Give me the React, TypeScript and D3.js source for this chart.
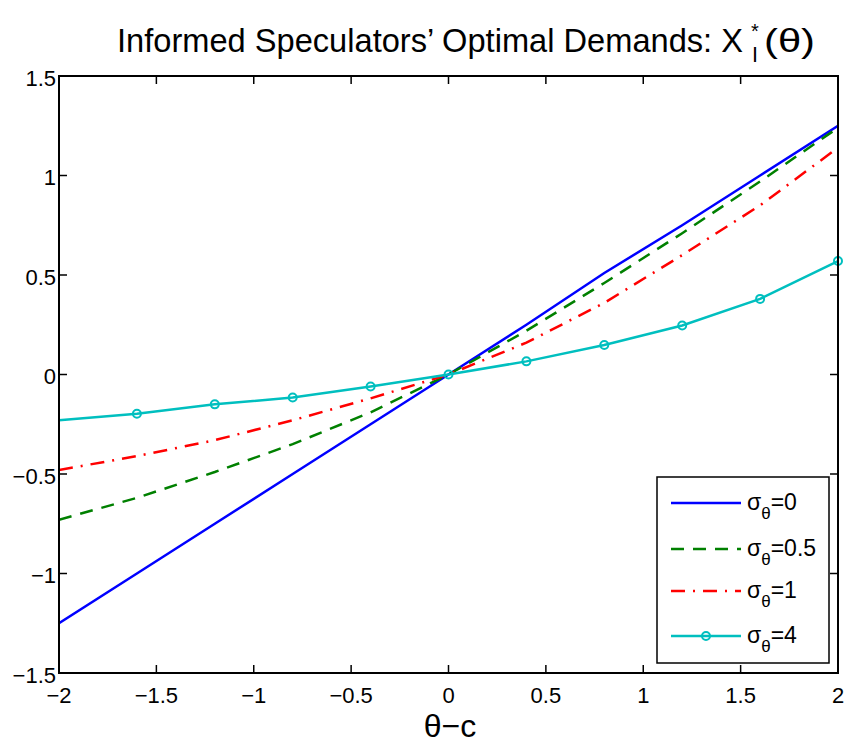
import React, { useEffect } from "react";
import * as d3 from "d3";

// theta - c grid
const thetaC = [-2, -1.6, -1.2, -0.8, -0.4, 0, 0.4, 0.8, 1.2, 1.6, 2];

const demandSigma0 = [-1.25, -1.0, -0.75, -0.5, -0.25, 0, 0.25, 0.51, 0.75, 1.0, 1.25];
const demandSigma05 = [-0.73, -0.62, -0.49, -0.35, -0.19, 0, 0.22, 0.46, 0.71, 0.97, 1.24];
const demandSigma1 = [-0.48, -0.41, -0.33, -0.23, -0.12, 0, 0.16, 0.36, 0.6, 0.85, 1.14];
const demandSigma4 = [-0.23, -0.197, -0.15, -0.116, -0.06, 0, 0.066, 0.148, 0.246, 0.38, 0.57];

const markerX = [-1.6, -1.2, -0.8, -0.4, 0, 0.4, 0.8, 1.2, 1.6, 2];

const xTicks = [-2, -1.5, -1, -0.5, 0, 0.5, 1, 1.5, 2];
const yTicks = [-1.5, -1, -0.5, 0, 0.5, 1, 1.5];

const legendLabels = ["0", "0.5", "1", "4"];

type Series = { values: number[]; color: string; dash?: string; markers?: boolean };

const series: Series[] = [
  { values: demandSigma0, color: "#0000ff" },
  { values: demandSigma05, color: "#008000", dash: "13,9" },
  { values: demandSigma1, color: "#ff0000", dash: "14,8,2,8" },
  { values: demandSigma4, color: "#00bfbf", markers: true },
];

const W = 849;
const H = 745;
const L = 59, R = 838, T = 76, B = 673;
const FONT = "'Liberation Sans', Arial, Helvetica, sans-serif";

const fmt = (v: number) => {
  const s = String(Math.abs(v));
  return v < 0 ? "\u2212" + s : s;
};

export default function App() {
  useEffect(() => {
    document.body.style.margin = "0";
  }, []);

  const x = d3.scaleLinear().domain([-2, 2]).range([L, R]);
  const y = d3.scaleLinear().domain([-1.5, 1.5]).range([B, T]);

  const line = (vals: number[]) =>
    d3.line<number>().x((_, i) => x(thetaC[i])).y((d) => y(d))(vals) || "";

  const tick = 8;
  const legX = 657, legY = 477, legW = 172, legH = 186;
  const rowY = [503, 549, 591, 636];

  return (
    <svg width={W} height={H} style={{ display: "block", background: "#fff" }} fontFamily={FONT}>
      {/* title */}
      <text x={117} y={52} fontSize={34} textLength={626} lengthAdjust="spacingAndGlyphs">
        Informed Speculators’ Optimal Demands: X
      </text>
      <text x={751} y={38} fontSize={20}>*</text>
      <text x={752} y={62} fontSize={22} textLength={6} lengthAdjust="spacingAndGlyphs">I</text>
      <text x={764} y={52} fontSize={34} textLength={51} lengthAdjust="spacingAndGlyphs">(θ)</text>

      <clipPath id="plotClip">
        <rect x={L} y={T} width={R - L} height={B - T} />
      </clipPath>

      {series.map((s, i) => (
        <path
          key={i}
          d={line(s.values)}
          fill="none"
          stroke={s.color}
          strokeWidth={2.5}
          strokeDasharray={s.dash}
          clipPath="url(#plotClip)"
        />
      ))}
      {markerX.map((mx, i) => {
        const idx = thetaC.indexOf(mx);
        return (
          <circle key={i} cx={x(mx)} cy={y(demandSigma4[idx])} r={4} fill="none" stroke="#00bfbf" strokeWidth={2} />
        );
      })}

      {/* axes box */}
      <rect x={L} y={T} width={R - L} height={B - T} fill="none" stroke="#000" strokeWidth={2} />
      {xTicks.map((t) => (
        <g key={"x" + t}>
          <line x1={x(t)} x2={x(t)} y1={B} y2={B - tick} stroke="#000" strokeWidth={1.5} />
          <line x1={x(t)} x2={x(t)} y1={T} y2={T + tick} stroke="#000" strokeWidth={1.5} />
          <text x={x(t)} y={703} fontSize={22} textAnchor="middle">{fmt(t)}</text>
        </g>
      ))}
      {yTicks.map((t) => (
        <g key={"y" + t}>
          <line x1={L} x2={L + tick} y1={y(t)} y2={y(t)} stroke="#000" strokeWidth={1.5} />
          <line x1={R} x2={R - tick} y1={y(t)} y2={y(t)} stroke="#000" strokeWidth={1.5} />
          <text x={56} y={y(t) + 9.5} fontSize={22} textAnchor="end">{fmt(t)}</text>
        </g>
      ))}

      {/* x label */}
      <text x={450} y={737} fontSize={32} textAnchor="middle">θ−c</text>

      {/* legend */}
      <rect x={legX} y={legY} width={legW} height={legH} fill="#fff" stroke="#000" strokeWidth={1.5} />
      {series.map((s, i) => (
        <g key={"leg" + i}>
          <line x1={671} x2={741} y1={rowY[i]} y2={rowY[i]} stroke={s.color} strokeWidth={2.5} strokeDasharray={s.dash} />
          {s.markers && <circle cx={706} cy={rowY[i]} r={4} fill="none" stroke={s.color} strokeWidth={2} />}
          <text x={747} y={rowY[i] + 7} fontSize={23}>
            σ
            <tspan fontSize={17} dy={9}>θ</tspan>
            <tspan dy={-9}>={legendLabels[i]}</tspan>
          </text>
        </g>
      ))}
    </svg>
  );
}
